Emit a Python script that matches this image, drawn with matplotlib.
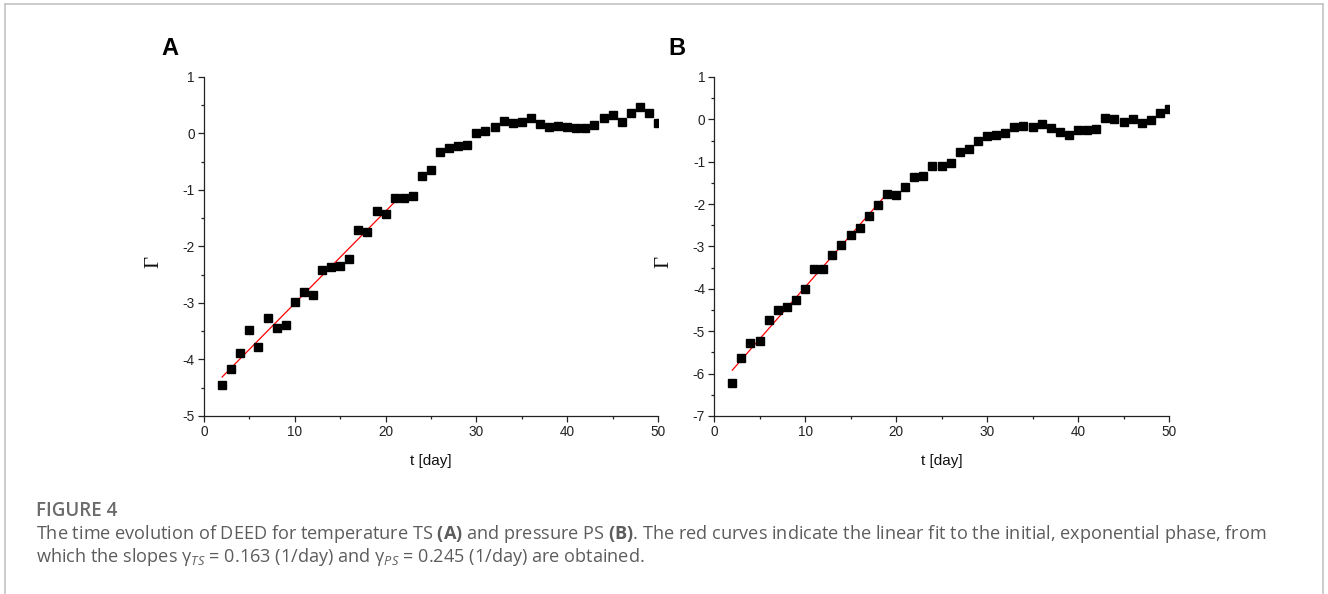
#!/usr/bin/env python3
import matplotlib
matplotlib.use('Agg')
import matplotlib.pyplot as plt
from matplotlib.ticker import MultipleLocator
from matplotlib.lines import Line2D

# data
days = list(range(2, 51))

gamma_ts = [-4.45, -4.17, -3.88, -3.47, -3.78, -3.27, -3.44, -3.39, -2.99, -2.81,
            -2.86, -2.41, -2.37, -2.35, -2.22, -1.71, -1.75, -1.38, -1.42, -1.14,
            -1.14, -1.10, -0.76, -0.65, -0.32, -0.26, -0.23, -0.20, 0.00, 0.04,
            0.11, 0.22, 0.18, 0.21, 0.28, 0.17, 0.12, 0.14, 0.11, 0.10,
            0.10, 0.15, 0.28, 0.32, 0.21, 0.37, 0.46, 0.37, 0.18]

gamma_ps = [-6.23, -5.64, -5.27, -5.24, -4.74, -4.51, -4.44, -4.26, -4.00, -3.53,
            -3.52, -3.19, -2.97, -2.72, -2.56, -2.28, -2.01, -1.75, -1.78, -1.60,
            -1.35, -1.34, -1.09, -1.09, -1.02, -0.77, -0.69, -0.51, -0.39, -0.38,
            -0.32, -0.18, -0.15, -0.17, -0.10, -0.21, -0.31, -0.36, -0.25, -0.25,
            -0.22, 0.04, 0.00, -0.06, 0.00, -0.09, -0.01, 0.16, 0.25]

# linear fits (slope, intercept, fitted day range)
fit_ts = (0.163, -4.636, 2, 21)
fit_ps = (0.245, -6.41, 2, 19)

caption_title = 'FIGURE 4'
caption_1 = ('The time evolution of DEED for temperature TS $\\mathbf{(A)}$ and pressure PS '
             '$\\mathbf{(B)}$. The red curves indicate the linear fit to the initial, exponential phase, from')
caption_2 = ('which the slopes \u03b3$_{TS}$ = 0.163 (1/day) and \u03b3$_{PS}$ = 0.245 (1/day) '
             'are obtained.')

plt.rcParams['font.family'] = ['Liberation Sans', 'DejaVu Sans']
plt.rcParams['axes.unicode_minus'] = False
plt.rcParams['mathtext.fontset'] = 'custom'
plt.rcParams['mathtext.rm'] = 'Open Sans'
plt.rcParams['mathtext.it'] = 'Open Sans:italic'
plt.rcParams['mathtext.bf'] = 'Open Sans:bold'

fig = plt.figure(figsize=(13.28, 5.94), dpi=100)

# light frame around the figure (open at the bottom)
frame_col = '#c4c4c4'
fig.add_artist(Line2D([0.0035, 0.0035], [0.0, 0.9935], color=frame_col, lw=1.2, transform=fig.transFigure))
fig.add_artist(Line2D([0.0035, 0.9965], [0.9935, 0.9935], color=frame_col, lw=1.2, transform=fig.transFigure))
fig.add_artist(Line2D([0.9965, 0.9965], [0.0, 0.9935], color=frame_col, lw=1.2, transform=fig.transFigure))


def panel(rect, values, fit, ymin, letter, letter_x):
    ax = fig.add_axes(rect)
    ax.plot(days, values, 's', color='black', markersize=5.6, zorder=3)
    k, b, x0, x1 = fit
    ax.plot([x0, x1], [k * x0 + b, k * x1 + b], color='red', lw=0.9, zorder=2)
    ax.set_xlim(0, 50)
    ax.set_ylim(ymin, 1)
    ax.xaxis.set_major_locator(MultipleLocator(10))
    ax.xaxis.set_minor_locator(MultipleLocator(5))
    ax.yaxis.set_major_locator(MultipleLocator(1))
    ax.yaxis.set_minor_locator(MultipleLocator(0.5))
    ax.spines['top'].set_visible(False)
    ax.spines['right'].set_visible(False)
    for s in ('left', 'bottom'):
        ax.spines[s].set_linewidth(0.9)
        ax.spines[s].set_color('#222222')
    ax.tick_params(which='major', direction='out', length=4.5, width=0.9,
                   labelsize=9.8, color='#222222', labelcolor='#222222', pad=2)
    ax.tick_params(which='minor', direction='out', length=2.5, width=0.9, color='#222222')
    ax.set_xlabel('t [day]', fontsize=11, color='#111111', labelpad=11)
    ax.set_ylabel('\u0393', fontsize=15, family=['Liberation Serif'], color='#111111')
    ax.yaxis.set_label_coords(-0.09, 0.455)
    fig.text(letter_x, 0.918, letter, fontsize=17, fontweight='bold', ha='center', va='center')
    return ax


panel([0.1536, 0.2997, 0.3419, 0.5707], gamma_ts, fit_ts, -5, 'A', 170 / 1328)
panel([0.5377, 0.2997, 0.3426, 0.5707], gamma_ps, fit_ps, -7, 'B', 677 / 1328)

fig.text(36 / 1328, 1 - 511 / 594, caption_title, fontsize=13.5, family='Open Sans',
         fontweight='semibold', color='#6b6b6b', va='center', ha='left')
fig.text(36 / 1328, 1 - 534 / 594, caption_1, fontsize=13.1, family='Open Sans',
         color='#5c5c5c', va='center', ha='left')
fig.text(36 / 1328, 1 - 557 / 594, caption_2, fontsize=13.1, family='Open Sans',
         color='#5c5c5c', va='center', ha='left')

fig.savefig('out.png', dpi=100)
